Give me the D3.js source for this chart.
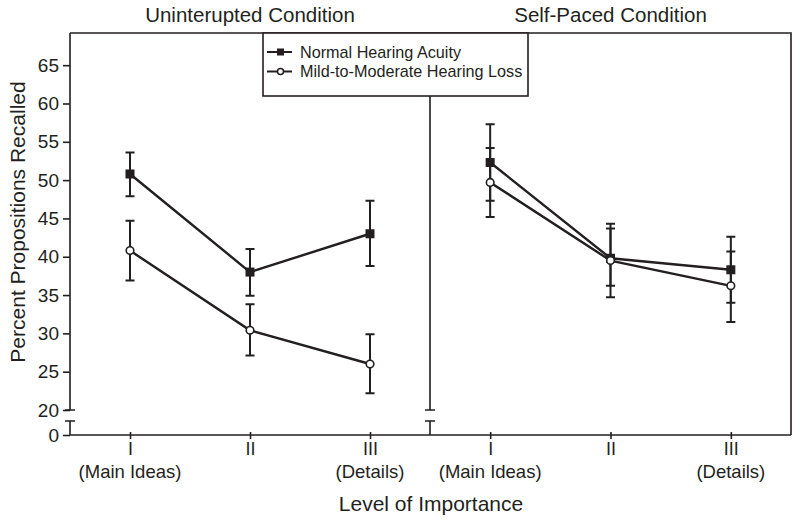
<!DOCTYPE html>
<html><head><meta charset="utf-8">
<script src="https://cdn.jsdelivr.net/npm/d3@7"></script>
<style>
html,body{margin:0;padding:0;background:#fff;}
svg{display:block;font-family:"Liberation Sans",Arial,sans-serif;}
</style></head>
<body><svg id="chart" width="800" height="522"></svg>
<script>
// ---- data ----
const categories = ["I", "II", "III"];
const subLabels = ["(Main Ideas)", "", "(Details)"];
const panelTitles = ["Uninterupted Condition", "Self-Paced Condition"];
const seriesNames = ["Normal Hearing Acuity", "Mild-to-Moderate Hearing Loss"];
const yTicks = [20, 25, 30, 35, 40, 45, 50, 55, 60, 65];
const yBreakTick = [0];

const normalUnint   = [50.8, 38.0, 43.0];
const normalUnintHi = [53.6, 41.0, 47.3];
const normalUnintLo = [47.9, 34.9, 38.8];
const lossUnint     = [40.8, 30.4, 26.0];
const lossUnintHi   = [44.7, 33.8, 29.9];
const lossUnintLo   = [36.9, 27.1, 22.2];

const normalSelf    = [52.3, 39.8, 38.3];
const normalSelfHi  = [57.3, 44.3, 42.6];
const normalSelfLo  = [47.3, 34.7, 34.0];
const lossSelf      = [49.7, 39.5, 36.2];
const lossSelfHi    = [54.2, 43.7, 40.7];
const lossSelfLo    = [45.2, 36.2, 31.5];

(function () {
// ---- layout ----
const ink = "#231f20";
const pLeft = 70, pMid = 430, pRight = 791, pTop = 33, pBase = 435;
const svg = d3.select("#chart");

const y = d3.scaleLinear().domain([20, 69.2]).range([410, pTop]);
const yLow = d3.scaleLinear().domain([0, 1.7]).range([pBase, 421]);

const panels = [
  {title: panelTitles[0], x0: pLeft, x1: pMid,
   series: [
     {name: seriesNames[0], v: normalUnint, hi: normalUnintHi, lo: normalUnintLo, filled: true},
     {name: seriesNames[1], v: lossUnint, hi: lossUnintHi, lo: lossUnintLo, filled: false}]},
  {title: panelTitles[1], x0: pMid, x1: pRight,
   series: [
     {name: seriesNames[0], v: normalSelf, hi: normalSelfHi, lo: normalSelfLo, filled: true},
     {name: seriesNames[1], v: lossSelf, hi: lossSelfHi, lo: lossSelfLo, filled: false}]}
];

// frame top and right
svg.append("path").attr("d", `M${pLeft},${pTop}H${pRight}V${pBase}`)
  .attr("fill", "none").attr("stroke", ink).attr("stroke-width", 1.6);

// broken vertical lines (left axis and divider)
function brokenLine(x) {
  const g = svg.append("g").attr("stroke", ink).attr("stroke-width", 1.6).attr("fill", "none");
  g.append("path").attr("d", `M${x},${pTop}V${y(20)}M${x-5},${y(20)}H${x+5}`);
  g.append("path").attr("d", `M${x-5},${yLow(1.7)}H${x+5}M${x},${yLow(1.7)}V${pBase}`);
}
brokenLine(pLeft);
brokenLine(pMid);

// y axis ticks
const yAxis = svg.append("g").attr("transform", `translate(${pLeft},0)`)
  .call(d3.axisLeft(y).tickValues(yTicks).tickFormat(d3.format("d")).tickSize(7).tickPadding(4));
yAxis.select(".domain").remove();
const yAxis2 = svg.append("g").attr("transform", `translate(${pLeft},0)`)
  .call(d3.axisLeft(yLow).tickValues(yBreakTick).tickFormat(d3.format("d")).tickSize(7).tickPadding(4));
yAxis2.select(".domain").remove();
svg.selectAll(".tick line").attr("stroke", ink).attr("stroke-width", 1.6);
svg.selectAll(".tick text").attr("fill", ink).style("font-size", "19px")
  .style("font-family", "'Liberation Sans',Arial,sans-serif");

// x axis baseline
svg.append("line").attr("x1", pLeft).attr("x2", pRight).attr("y1", pBase).attr("y2", pBase)
  .attr("stroke", ink).attr("stroke-width", 1.6);

const lineGen = d3.line();

panels.forEach(p => {
  const x = d3.scalePoint().domain(categories).range([p.x0, p.x1]).padding(0.5);
  const xa = svg.append("g").attr("transform", `translate(0,${pBase})`)
    .call(d3.axisBottom(x).tickSize(4).tickPadding(3));
  xa.select(".domain").remove();
  xa.selectAll(".tick line").attr("stroke", ink).attr("stroke-width", 1.6).attr("y1", -3);
  xa.selectAll(".tick text").attr("fill", ink).style("font-size", "18px")
    .style("font-family", "'Liberation Sans',Arial,sans-serif");
  // sublabels
  svg.append("g").selectAll("text").data(categories).join("text")
    .attr("x", d => x(d)).attr("y", 478).attr("text-anchor", "middle")
    .attr("fill", ink).style("font-size", "18.5px")
    .text((d, i) => subLabels[i]);
  // title
  svg.append("text").attr("x", (p.x0 + p.x1) / 2).attr("y", 22)
    .attr("text-anchor", "middle").attr("fill", ink).style("font-size", "20.5px")
    .text(p.title);

  // lines
  p.series.forEach(s => {
    svg.append("path")
      .attr("d", lineGen(categories.map((c, i) => [x(c), y(s.v[i])])))
      .attr("fill", "none").attr("stroke", ink).attr("stroke-width", 2.4);
  });
  // error bars
  p.series.forEach(s => {
    const g = svg.append("g").attr("stroke", ink).attr("stroke-width", 2).attr("fill", "none");
    categories.forEach((c, i) => {
      const cx = x(c);
      g.append("path").attr("d",
        `M${cx},${y(s.hi[i])}V${y(s.lo[i])}M${cx-4.5},${y(s.hi[i])}H${cx+4.5}M${cx-4.5},${y(s.lo[i])}H${cx+4.5}`);
    });
  });
  // markers
  p.series.forEach(s => {
    categories.forEach((c, i) => {
      const cx = x(c), cy = y(s.v[i]);
      if (s.filled) {
        svg.append("rect").attr("x", cx - 4.5).attr("y", cy - 4.5).attr("width", 9).attr("height", 9)
          .attr("fill", ink);
      } else {
        svg.append("circle").attr("cx", cx).attr("cy", cy).attr("r", 3.8)
          .attr("fill", "#fff").attr("stroke", ink).attr("stroke-width", 1.6);
      }
    });
  });
});

// legend
const lg = svg.append("g");
lg.append("rect").attr("x", 263).attr("y", pTop).attr("width", 265).attr("height", 63)
  .attr("fill", "#fff").attr("stroke", ink).attr("stroke-width", 1.6);
seriesNames.forEach((name, i) => {
  const ly = 52 + i * 19.5;
  lg.append("line").attr("x1", 267).attr("x2", 292).attr("y1", ly).attr("y2", ly)
    .attr("stroke", ink).attr("stroke-width", 2);
  if (i === 0) {
    lg.append("rect").attr("x", 277).attr("y", ly - 3.5).attr("width", 7).attr("height", 7).attr("fill", ink);
  } else {
    lg.append("circle").attr("cx", 280.5).attr("cy", ly).attr("r", 3)
      .attr("fill", "#fff").attr("stroke", ink).attr("stroke-width", 1.5);
  }
  lg.append("text").attr("x", 300).attr("y", ly).attr("dy", "0.35em")
    .attr("fill", ink).style("font-size", "16.2px").text(name);
});

// axis titles
svg.append("text").attr("transform", `translate(25,${(pTop + pBase) / 2 - 12}) rotate(-90)`)
  .attr("text-anchor", "middle").attr("fill", ink).style("font-size", "21px")
  .text("Percent Propositions Recalled");
svg.append("text").attr("x", 431).attr("y", 511).attr("text-anchor", "middle")
  .attr("fill", ink).style("font-size", "21px").text("Level of Importance");
})();
</script>
</body></html>
